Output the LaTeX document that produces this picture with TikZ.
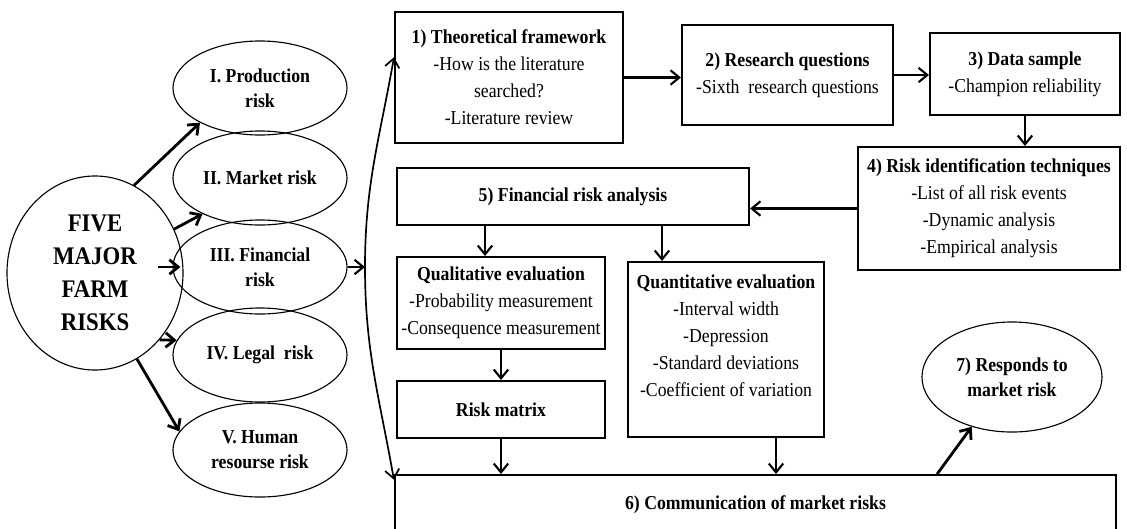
\documentclass[tikz,border=0pt]{standalone}
\usepackage{fontspec}
\setmainfont{Liberation Serif}[FakeStretch=0.9]
\usepackage{tikz}
\usetikzlibrary{arrows.meta,positioning,shapes.geometric}

\begin{document}
\begin{tikzpicture}[
  x=0.025cm, y=-0.025cm,
  stage/.style={draw, line width=1.4pt, inner sep=2pt, align=center,
    font=\fontsize{14}{19.2}\selectfont},
  risk/.style={draw, ellipse, line width=0.8pt, inner sep=0pt, align=center,
    minimum width=4.35cm, minimum height=2.35cm,
    font=\fontsize{14}{18}\selectfont\bfseries},
  arr/.style={-{Straight Barb[length=2.2mm,width=3.6mm]}, line width=1.5pt},
  spoke/.style={arr, line width=2pt}
]
\useasboundingbox (0,0) rectangle (1127,528);

% five farm risks
\node[draw, ellipse, line width=0.8pt, minimum width=4.4cm, minimum height=4.85cm,
  inner sep=0pt, align=center, font=\fontsize{18}{23.5}\selectfont\bfseries]
  (five) at (95,273) {FIVE\\MAJOR\\FARM\\RISKS};
\node[risk] (prod) at (260,88) {I. Production\\risk};
\node[risk] (mkt) at (260,178) {II. Market risk};
\node[risk] (fin) at (260,267) {III. Financial\\risk};
\node[risk] (legal) at (260,355) {IV. Legal\ \ risk};
\node[risk] (hum) at (260,450) {V. Human\\resourse risk};

% research steps
\node[stage, minimum width=5.7cm, minimum height=3.275cm] (theo) at (509,77.5)
  {\textbf{1) Theoretical framework}\\-How is the literature\\searched?\\-Literature review};
\node[stage, minimum width=5.275cm, minimum height=2.5cm] (rq) at (787.5,75)
  {\textbf{2) Research questions}\\-Sixth\ \ research questions};
\node[stage, minimum width=4.75cm, minimum height=2.05cm] (data) at (1025,74)
  {\textbf{3) Data sample}\\-Champion reliability};
\node[stage, minimum width=6.55cm, minimum height=3.075cm] (ident) at (989,208.5)
  {\textbf{4) Risk identification techniques}\\-List of all risk events\\-Dynamic analysis\\-Empirical analysis};
\node[stage, minimum width=8.8cm, minimum height=1.425cm] (fra) at (573,196.5)
  {\textbf{5) Financial risk analysis}};
\node[stage, minimum width=5.2cm, minimum height=2.3cm] (qual) at (501,303)
  {\textbf{Qualitative evaluation}\\-Probability measurement\\-Consequence measurement};
\node[stage, minimum width=4.9cm, minimum height=4.375cm, text depth=0.7cm] (quant) at (726,349.5)
  {\textbf{Quantitative evaluation}\\-Interval width\\-Depression\\-Standard deviations\\-Coefficient of variation};
\node[stage, minimum width=5.2cm, minimum height=1.425cm] (matrix) at (501,409.5)
  {\textbf{Risk matrix}};
\node[stage, minimum width=18.025cm, minimum height=1.5cm] (comm) at (755.5,505)
  {\textbf{6) Communication of market risks}};
\node[risk, minimum width=4.5cm, minimum height=2.75cm] (resp) at (1012,377)
  {7) Responds to\\market risk};

\coordinate (hub) at (365,267);

\draw[spoke] (five.66) -- (prod.210);
\draw[spoke] (five.29) -- (mkt.212);
\draw[spoke] ([xshift=-0.35cm]fin.west) -- ([xshift=0.2cm]fin.west);
\draw[spoke] (five.-46) -- (legal.170);
\draw[spoke] (five.-64) -- (hum.167);

\draw[arr] (fin.east) -- (hub);
\draw[arr, line width=1.2pt] (hub) to[out=90, in=-100] (theo.170);
\draw[arr, line width=1.2pt] (hub) to[out=-90, in=100] (comm.176);

\draw[arr] (theo.east) -- (theo.east -| rq.west);
\draw[arr] (rq.east) -- (rq.east -| data.west);
\draw[arr] (data.south) -- (data.south |- ident.north);
\draw[arr] (ident.west) -- (ident.west -| fra.east);
\draw[arr] ([xshift=-0.4cm]qual.north |- fra.south) -- ([xshift=-0.4cm]qual.north);
\draw[arr] ([xshift=-1.6cm]quant.north |- fra.south) -- ([xshift=-1.6cm]quant.north);
\draw[arr] (qual.south) -- (matrix.north);
\draw[arr] (matrix.south) -- (matrix.south |- comm.north);
\draw[arr] ([xshift=1.25cm]quant.south) -- ([xshift=1.25cm]quant.south |- comm.north);
\draw[spoke] ([xshift=4.54cm]comm.north) -- (resp.231);
\end{tikzpicture}
\end{document}
